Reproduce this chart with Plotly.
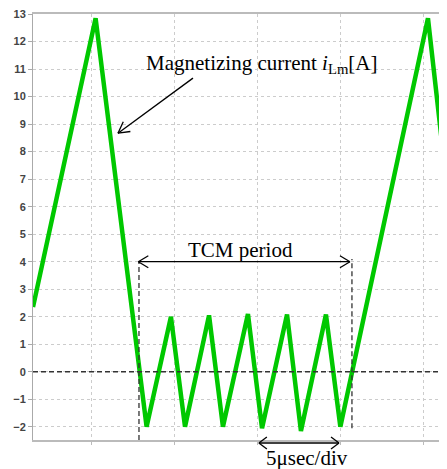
import math
import plotly.graph_objects as go

# time in microseconds, magnetizing current in A
time_us = [1.44, 5.22, 8.30, 9.77, 10.62, 12.07, 12.91, 14.42, 15.27, 16.78, 17.62, 19.13, 20.00, 25.29, 26.44]
i_lm = [2.35, 12.85, -2.0, 2.0, -2.0, 2.05, -2.0, 2.1, -2.05, 2.08, -2.15, 2.08, -2.0, 12.85, 6.7]

x_range = [1.44, 26.44]
y_range = [-2.48, 13.001]
y_ticks = list(range(-2, 14))

tcm_start, tcm_end = 7.80, 20.58
tcm_left_line, tcm_right_line = 7.84, 20.70
div_start, div_end = 15.08, 19.92

serif = "Liberation Serif, Times New Roman, serif"

# figure geometry (the page body has an 8px margin)
W, H = 439, 461
M = dict(l=25, r=0, t=6, b=29)
PW = W - M["l"] - M["r"]
PH = H - M["t"] - M["b"]


def to_paper(x=None, y=None):
    px = None if x is None else (x - x_range[0]) / (x_range[1] - x_range[0])
    py = None if y is None else (y - y_range[0]) / (y_range[1] - y_range[0])
    return px, py


fig = go.Figure()
fig.add_trace(go.Scatter(x=time_us, y=i_lm, mode="lines",
                         line=dict(color="rgb(0,200,0)", width=4.5),
                         hoverinfo="skip", showlegend=False))

dash_line = dict(color="#333333", width=1.3, dash="5px,3px")
fig.add_shape(type="line", xref="x", yref="y", x0=x_range[0], x1=x_range[1], y0=0, y1=0, line=dash_line)
fig.add_shape(type="line", xref="x", yref="y", x0=tcm_left_line, x1=tcm_left_line, y0=y_range[0], y1=4.0, line=dash_line)
fig.add_shape(type="line", xref="x", yref="y", x0=tcm_right_line, x1=tcm_right_line, y0=-2.05, y1=4.1, line=dash_line)

arrow_line = dict(color="black", width=1.3)


def add_arrow(p_tail, p_tip, both=False, head_len=10, head_w=6):
    (x1, y1), (x2, y2) = p_tail, p_tip
    fig.add_shape(type="line", xref="paper", yref="paper", x0=x1, y0=y1, x1=x2, y1=y2, line=arrow_line)
    ends = [((x1, y1), (x2, y2))]
    if both:
        ends.append(((x2, y2), (x1, y1)))
    for (ax, ay), (bx, by) in ends:
        dx, dy = (bx - ax) * PW, (by - ay) * PH
        d = math.hypot(dx, dy)
        ux, uy = dx / d, dy / d
        nx, ny = -uy, ux
        for s in (1, -1):
            hx = bx + (-head_len * ux + s * head_w * nx) / PW
            hy = by + (-head_len * uy + s * head_w * ny) / PH
            fig.add_shape(type="line", xref="paper", yref="paper", x0=bx, y0=by, x1=hx, y1=hy, line=arrow_line)


add_arrow(to_paper(11.10, 10.67), to_paper(6.57, 8.67), head_len=11, head_w=6)
add_arrow(to_paper(tcm_start, 4.0), to_paper(tcm_end, 4.0), both=True)
add_arrow((to_paper(div_start)[0], -0.007), (to_paper(div_end)[0], -0.007), both=True, head_len=8)

annotations = [
    dict(text="Magnetizing current <i>i</i><sub>Lm</sub>[A]", x=15.27, y=11.17, xref="x", yref="y",
         showarrow=False, xanchor="center", yanchor="middle",
         font=dict(family=serif, size=21, color="black")),
    dict(text="TCM period", x=(tcm_start + tcm_end) / 2 - 0.25, y=4.43, xref="x", yref="y",
         showarrow=False, xanchor="center", yanchor="middle",
         font=dict(family=serif, size=21, color="black")),
    dict(text="5\u03bcsec/div", x=17.98, y=-0.0415, xref="x", yref="paper",
         showarrow=False, xanchor="center", yanchor="middle",
         font=dict(family=serif, size=21, color="black")),
]

fig.update_layout(
    width=W, height=H,
    margin=M,
    paper_bgcolor="white", plot_bgcolor="white",
    annotations=annotations,
    xaxis=dict(range=x_range, tick0=0, dtick=5, showticklabels=False,
               ticks="outside", ticklen=3, tickcolor="#bbbbbb",
               showgrid=True, gridcolor="#cccccc", griddash="dot", gridwidth=1,
               showline=True, linecolor="#bbbbbb", linewidth=1.5, mirror=True,
               zeroline=False),
    yaxis=dict(range=y_range, tickvals=y_ticks, ticklabeloverflow="allow",
               ticks="outside", ticklen=4, tickcolor="#aaaaaa",
               tickfont=dict(family="Liberation Sans, Arial, sans-serif", size=11, color="#444444", weight="bold"),
               showgrid=True, gridcolor="#cccccc", griddash="dot", gridwidth=1,
               showline=True, linecolor="#aaaaaa", linewidth=1,
               zeroline=False),
)

fig.write_html("out.html")
